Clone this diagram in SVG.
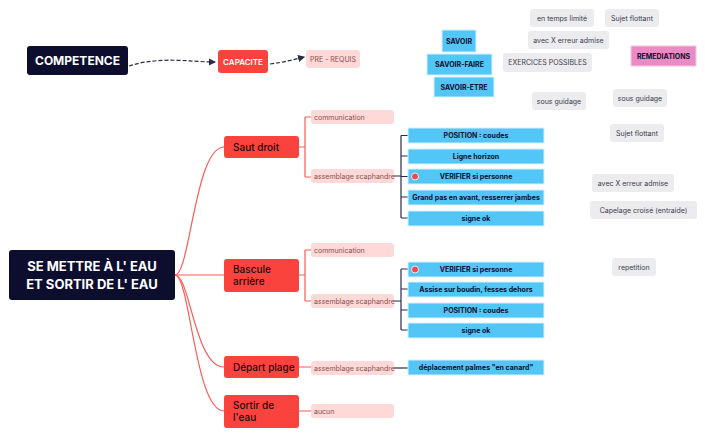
<svg xmlns="http://www.w3.org/2000/svg" width="705" height="437" viewBox="0 0 705 437">
<defs>
<style>
text{font-family:"Inter","Noto Sans","Liberation Sans",sans-serif}
.dark{fill:#0d0d2e}
.red{fill:#fb433e}
.pink{fill:#fed9d8}
.blue{fill:#52c6f7;stroke:#d6f0fc;stroke-width:1}
.grey{fill:#ececef}
.tw{fill:#fff;font-weight:700}
.tr{fill:#1a0a0a;font-size:10px;font-weight:500}
.tp{fill:#8a4d4d;font-size:7px}
.tb{fill:#0d0d2e;font-size:7px;font-weight:700}
.tg{fill:#3a3a4a;font-size:7px}
.lr{fill:none;stroke:#fb5a55;stroke-width:1.2}
.ld{fill:none;stroke:#2b2b45;stroke-width:1.2}
</style>
<marker id="ah" viewBox="0 0 6 6" refX="5" refY="3" markerWidth="6" markerHeight="6" orient="auto"><path d="M0,0L6,3L0,6z" fill="#2b2b45"/></marker>
</defs>
<g id="connectors">
<path class="ld" d="M129,66 C160,56 190,62 215,62" stroke-dasharray="4,2" marker-end="url(#ah)"/>
<path class="ld" d="M270,64 C285,62 292,60 304,57" stroke-dasharray="4,2" marker-end="url(#ah)"/>
<path class="lr" d="M175,275 C190,275 195,147 224,147"/>
<path class="lr" d="M175,275 L224,275"/>
<path class="lr" d="M175,275 C190,275 195,367 224,367"/>
<path class="lr" d="M175,275 C190,275 195,411 224,411"/>
<path class="lr" d="M299,147 H305 M305,117 V177 M305,117 Q305,117 311,117 M305,177 H311"/>
<path class="lr" d="M299,275 H305 M305,250 V301 M305,250 H311 M305,301 H311"/>
<path class="lr" d="M299,367 H311 M299,411 H311"/>
<path class="ld" d="M394,176 H401 M401,135.5 V218 M401,135.5 H408 M401,156 H408 M401,176.5 H408 M401,197 H408 M401,218 H408"/>
<path class="ld" d="M394,301 H401 M401,269 V330 M401,269 H408 M401,289 H408 M401,310 H408 M401,330 H408"/>
<path class="ld" d="M394,368 H408"/>
</g>
<g id="root"><rect class="dark" x="9" y="250" width="166" height="50" rx="3"/><text class="tw" x="92" y="271" font-size="13" text-anchor="middle" font-weight="600">SE METTRE À L' EAU</text><text class="tw" x="92" y="289" font-size="13" text-anchor="middle" font-weight="600">ET SORTIR DE L' EAU</text></g>
<g id="competence"><rect class="dark" x="27" y="46" width="101" height="29" rx="3"/><text class="tw" x="77.5" y="65" font-size="12" text-anchor="middle">COMPETENCE</text></g>
<g id="capacite"><rect class="red" x="218" y="50" width="50" height="23" rx="3"/><text x="243" y="65" font-size="8" fill="#fff" text-anchor="middle" font-weight="600">CAPACITE</text></g>
<g id="prerequis"><rect class="pink" x="306" y="50" width="54" height="18" rx="3"/><text class="tp" x="333" y="61.5" text-anchor="middle">PRE - REQUIS</text></g>
<g id="saut"><rect class="red" x="224" y="136" width="75" height="22" rx="3"/><text class="tr" x="233" y="151">Saut droit</text></g>
<g id="bascule"><rect class="red" x="224" y="259" width="75" height="33" rx="3"/><text class="tr" x="233" y="273">Bascule</text><text class="tr" x="233" y="285">arrière</text></g>
<g id="depart"><rect class="red" x="224" y="356" width="75" height="22" rx="3"/><text class="tr" x="233" y="371">Départ plage</text></g>
<g id="sortir"><rect class="red" x="224" y="395" width="75" height="33" rx="3"/><text class="tr" x="233" y="409">Sortir de</text><text class="tr" x="233" y="421">l'eau</text></g>
<g id="c1"><rect class="pink" x="311" y="110" width="83" height="14" rx="3"/><text class="tp" x="314" y="119.5">communication</text></g>
<g id="a1"><rect class="pink" x="311" y="169" width="83" height="14" rx="3"/><text class="tp" x="314" y="178.5">assemblage scaphandre</text></g>
<g id="c2"><rect class="pink" x="311" y="243" width="83" height="14" rx="3"/><text class="tp" x="314" y="252.5">communication</text></g>
<g id="a2"><rect class="pink" x="311" y="294" width="83" height="14" rx="3"/><text class="tp" x="314" y="303.5">assemblage scaphandre</text></g>
<g id="a3"><rect class="pink" x="311" y="361" width="83" height="14" rx="3"/><text class="tp" x="314" y="370.5">assemblage scaphandre</text></g>
<g id="aucun"><rect class="pink" x="311" y="404" width="83" height="14" rx="3"/><text class="tp" x="314" y="413.5">aucun</text></g>
<g id="b1"><rect class="blue" x="408" y="128" width="136" height="15"/><text class="tb" x="476" y="138" text-anchor="middle">POSITION : coudes</text></g>
<g id="b2"><rect class="blue" x="408" y="149" width="136" height="15"/><text class="tb" x="476" y="159" text-anchor="middle">Ligne horizon</text></g>
<g id="b3"><rect class="blue" x="408" y="169" width="136" height="15"/><circle cx="415" cy="176.5" r="3.5" fill="#f04a4a" stroke="#fff" stroke-width="0.8"/><text class="tb" x="476" y="179" text-anchor="middle">VERIFIER si personne</text></g>
<g id="b4"><rect class="blue" x="408" y="190" width="136" height="15"/><text class="tb" x="476" y="200" text-anchor="middle">Grand pas en avant, resserrer jambes</text></g>
<g id="b5"><rect class="blue" x="408" y="211" width="136" height="15"/><text class="tb" x="476" y="221" text-anchor="middle">signe ok</text></g>
<g id="b6"><rect class="blue" x="408" y="262" width="136" height="15"/><circle cx="415" cy="269.5" r="3.5" fill="#f04a4a" stroke="#fff" stroke-width="0.8"/><text class="tb" x="476" y="272" text-anchor="middle">VERIFIER si personne</text></g>
<g id="b7"><rect class="blue" x="408" y="282" width="136" height="15"/><text class="tb" x="476" y="292" text-anchor="middle">Assise sur boudin, fesses dehors</text></g>
<g id="b8"><rect class="blue" x="408" y="303" width="136" height="15"/><text class="tb" x="476" y="313" text-anchor="middle">POSITION : coudes</text></g>
<g id="b9"><rect class="blue" x="408" y="323" width="136" height="15"/><text class="tb" x="476" y="333" text-anchor="middle">signe ok</text></g>
<g id="b10"><rect class="blue" x="408" y="360" width="136" height="15"/><text class="tb" x="476" y="370" text-anchor="middle">déplacement palmes "en canard"</text></g>
<g id="savoir"><rect class="blue" x="442" y="30" width="34" height="22"/><text class="tb" x="459" y="43.5" text-anchor="middle">SAVOIR</text></g>
<g id="savoirfaire"><rect class="blue" x="427" y="54" width="65" height="21"/><text class="tb" x="459.5" y="67" text-anchor="middle">SAVOIR-FAIRE</text></g>
<g id="savoiretre"><rect class="blue" x="434" y="77" width="60" height="20"/><text class="tb" x="464" y="89.5" text-anchor="middle">SAVOIR-ETRE</text></g>
<g id="remed"><rect x="631" y="46" width="65" height="20" fill="#e98bc4" stroke="#f5c6e0"/><text class="tb" x="663.5" y="58.5" text-anchor="middle">REMEDIATIONS</text></g>
<g id="g1"><rect class="grey" x="530" y="9" width="64" height="18" rx="3"/><text class="tg" x="562" y="20.5" text-anchor="middle">en temps limité</text></g>
<g id="g2"><rect class="grey" x="605" y="9" width="54" height="18" rx="3"/><text class="tg" x="632" y="20.5" text-anchor="middle">Sujet flottant</text></g>
<g id="g3"><rect class="grey" x="528" y="31" width="81" height="18" rx="3"/><text class="tg" x="568.5" y="42.5" text-anchor="middle">avec X erreur admise</text></g>
<g id="g4"><rect class="grey" x="503" y="53" width="89" height="19" rx="3"/><text class="tg" x="547.5" y="65" text-anchor="middle">EXERCICES POSSIBLES</text></g>
<g id="g5"><rect class="grey" x="532" y="92" width="54" height="18" rx="3"/><text class="tg" x="559" y="103.5" text-anchor="middle">sous guidage</text></g>
<g id="g6"><rect class="grey" x="613" y="89" width="54" height="18" rx="3"/><text class="tg" x="640" y="100.5" text-anchor="middle">sous guidage</text></g>
<g id="g7"><rect class="grey" x="610" y="124" width="54" height="18" rx="3"/><text class="tg" x="637" y="135.5" text-anchor="middle">Sujet flottant</text></g>
<g id="g8"><rect class="grey" x="592" y="174" width="82" height="18" rx="3"/><text class="tg" x="633" y="185.5" text-anchor="middle">avec X erreur admise</text></g>
<g id="g9"><rect class="grey" x="590" y="201" width="107" height="18" rx="3"/><text class="tg" x="643.5" y="212.5" text-anchor="middle">Capelage croisé (entraide)</text></g>
<g id="g10"><rect class="grey" x="612" y="258" width="44" height="18" rx="3"/><text class="tg" x="634" y="269.5" text-anchor="middle">repetition</text></g>
</svg>
